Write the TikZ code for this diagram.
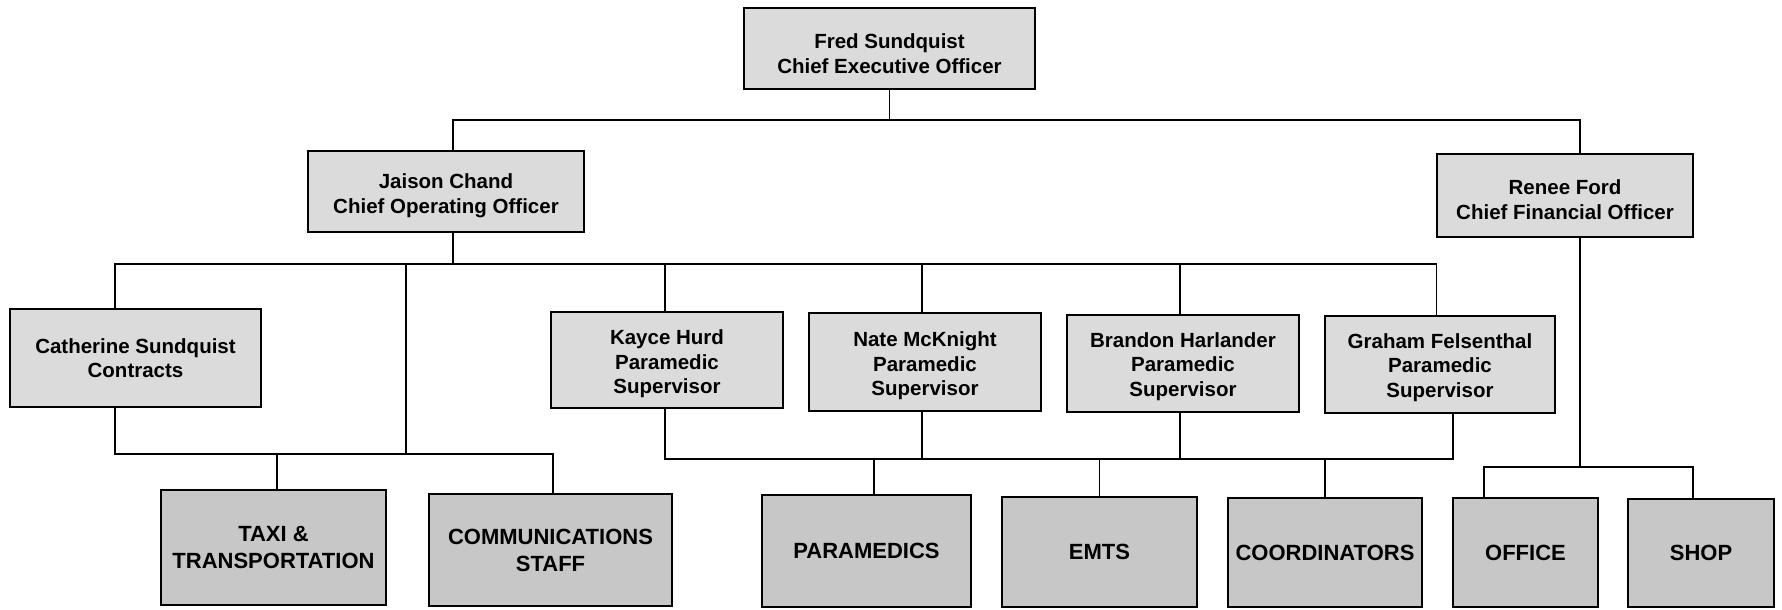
\documentclass[tikz,border=0pt]{standalone}
\usepackage{fontspec}
\setmainfont{Liberation Sans}
\tikzset{
  x=1pt, y=-1pt,
  orgbox/.style={draw=black, line width=2.6pt, fill=black!14, inner sep=0pt},
  lowbox/.style={orgbox, fill=black!22},
  uptext/.style={align=center, inner sep=0pt, font=\bfseries\fontsize{20.5}{24.5}\selectfont},
  lowtext/.style={align=center, inner sep=0pt, font=\bfseries\fontsize{22}{27}\selectfont},
  conn/.style={draw=black, line width=1.8pt, line cap=rect}
}
% #1 name, #2 left, #3 top, #4 right, #5 bottom, #6 style, #7 text style, #8 dy, #9 text
\newcommand\obox[9]{%
  \node[#6, minimum width={#4-#2}, minimum height={#5-#3}] (#1) at ({(#2+#4)/2},{(#3+#5)/2}) {};
  \node[#7] (#1t) at ([yshift=-#8pt]#1.center) {#9};
}
\begin{document}
\begin{tikzpicture}
\useasboundingbox[fill=white] (0,0) rectangle (1782,610);
% executives
\obox{ceo}{744}{8}{1035}{89}{orgbox}{uptext}{5}{Fred Sundquist\\Chief Executive Officer}
\obox{coo}{308}{151}{584}{232}{orgbox}{uptext}{4}{Jaison Chand\\Chief Operating Officer}
\obox{cfo}{1437}{154}{1693}{237}{orgbox}{uptext}{4}{Renee Ford\\Chief Financial Officer}
% second level
\obox{cath}{10}{309}{261}{407}{orgbox}{uptext}{0}{Catherine Sundquist\\Contracts}
\obox{kayce}{551}{312}{783}{408}{orgbox}{uptext}{4}{Kayce Hurd\\Paramedic\\Supervisor}
\obox{nate}{809}{313}{1041}{411}{orgbox}{uptext}{4}{Nate McKnight\\Paramedic\\Supervisor}
\obox{brandon}{1067}{315}{1299}{412}{orgbox}{uptext}{3}{Brandon Harlander\\Paramedic\\Supervisor}
\obox{graham}{1325}{316}{1555}{413}{orgbox}{uptext}{3}{Graham Felsenthal\\Paramedic\\Supervisor}
% bottom level
\obox{taxi}{161}{490}{386}{605}{lowbox}{lowtext}{0}{TAXI \&\\TRANSPORTATION}
\obox{comm}{429}{494}{672}{606}{lowbox}{lowtext}{0}{COMMUNICATIONS\\STAFF}
\obox{para}{762}{495}{971}{607}{lowbox}{lowtext}{0}{PARAMEDICS}
\obox{emts}{1002}{497}{1197}{607}{lowbox}{lowtext}{0}{EMTS}
\obox{coord}{1228}{498}{1422}{607}{lowbox}{lowtext}{0}{COORDINATORS}
\obox{office}{1453}{498}{1598}{607}{lowbox}{lowtext}{0}{OFFICE}
\obox{shop}{1628}{499}{1774}{607}{lowbox}{lowtext}{0}{SHOP}
% junction coordinates
\coordinate (j0) at (890,120);
\coordinate (j1) at (453,264);
\coordinate (j2) at (406,454);
\coordinate (j3) at (665,459);
\coordinate (j4) at (1580,467);
% CEO level
\draw[conn] (ceo.south) -- (ceo.south |- j0);
\draw[conn] ([xshift=7pt]coo.north) |- (j0) -| ([xshift=15pt]cfo.north);
% COO level
\draw[conn] ([xshift=7pt]coo.south) -- (j1);
\draw[conn] ([xshift=-20.5pt]cath.north) |- ([xshift=-3.5pt]graham.north |- j1) -- ([xshift=-3.5pt]graham.north);
\draw[conn] ([xshift=-2pt]kayce.north) -- ([xshift=-2pt]kayce.north |- j1);
\draw[conn] ([xshift=-3pt]nate.north) -- ([xshift=-3pt]nate.north |- j1);
\draw[conn] ([xshift=-3pt]brandon.north) -- ([xshift=-3pt]brandon.north |- j1);
\draw[conn] (j2 |- j1) -- (j2);
% contracts group
\draw[conn] ([xshift=-20.5pt]cath.south) |- ([xshift=2.5pt]comm.north |- j2) -- ([xshift=2.5pt]comm.north);
\draw[conn] ([xshift=3.5pt]taxi.north) -- ([xshift=3.5pt]taxi.north |- j2);
% supervisors group
\draw[conn] ([xshift=-2pt]kayce.south) |- ([xshift=13pt]graham.south |- j3) -- ([xshift=13pt]graham.south);
\draw[conn] ([xshift=-3pt]nate.south) -- ([xshift=-3pt]nate.south |- j3);
\draw[conn] ([xshift=-3pt]brandon.south) -- ([xshift=-3pt]brandon.south |- j3);
\draw[conn] ([xshift=7.5pt]para.north) -- ([xshift=7.5pt]para.north |- j3);
\draw[conn] (emts.north) -- (emts.north |- j3);
\draw[conn] (coord.north) -- (coord.north |- j3);
% CFO group
\draw[conn] ([xshift=15pt]cfo.south) -- (j4);
\draw[conn] ([xshift=-41.5pt]office.north) |- ([xshift=-8pt]shop.north |- j4) -- ([xshift=-8pt]shop.north);
\end{tikzpicture}
\end{document}
